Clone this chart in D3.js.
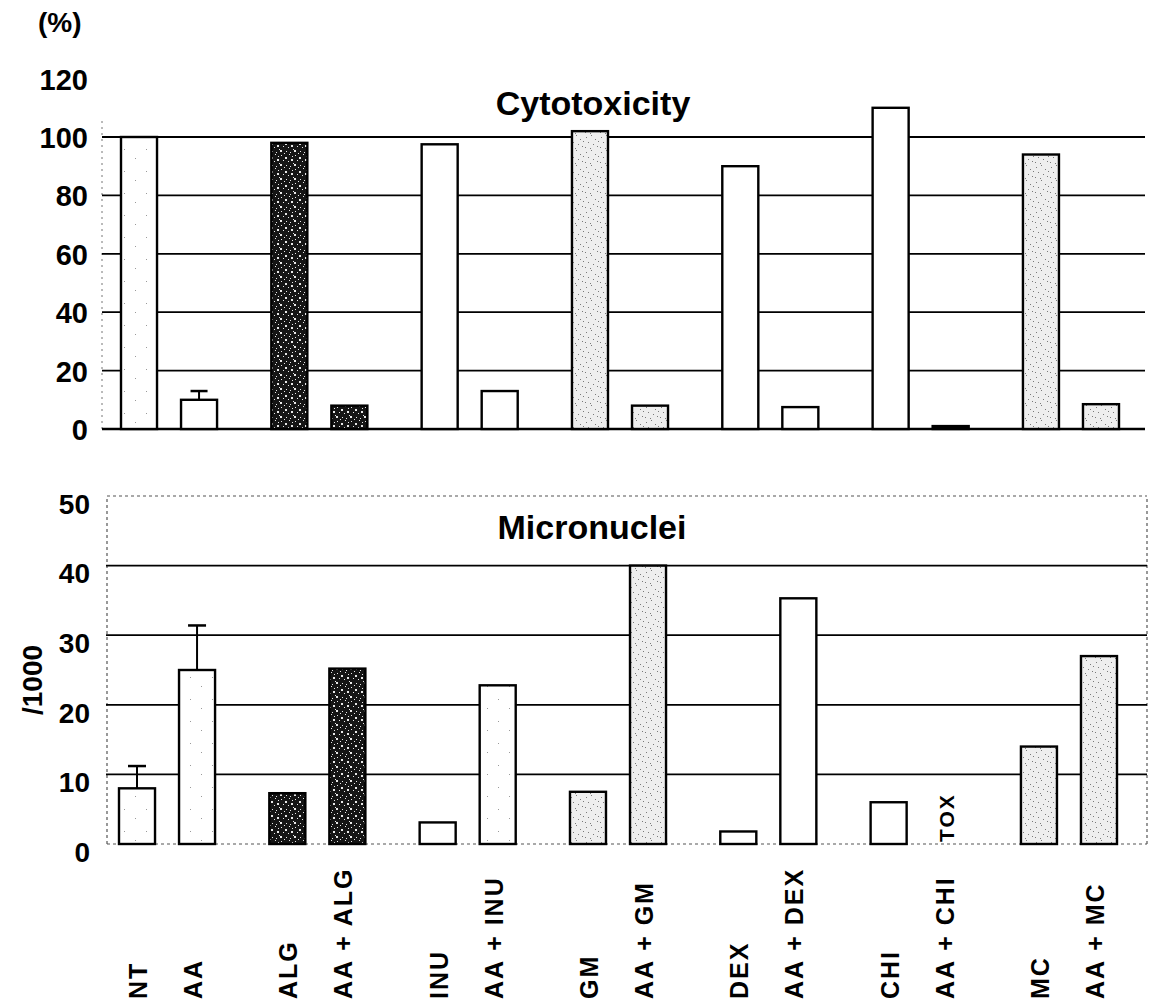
<!DOCTYPE html>
<html>
<head>
<meta charset="utf-8">
<script src="https://cdn.jsdelivr.net/npm/d3@7"></script>
<style>
  html, body { margin: 0; padding: 0; background: #fff; }
  svg { display: block; }
  text { font-family: "Liberation Sans", Arial, Helvetica, sans-serif; font-weight: bold; fill: #000; }
</style>
</head>
<body>
<svg id="chart" width="1154" height="1008"></svg>
<script>
// ---------------- data ----------------
const groups = ["NT", "ALG", "INU", "GM", "DEX", "CHI", "MC"];
const categories = ["NT", "AA", "ALG", "AA + ALG", "INU", "AA + INU", "GM", "AA + GM",
                    "DEX", "AA + DEX", "CHI", "AA + CHI", "MC", "AA + MC"];
const cytotoxicity    = [100, 10, 98, 8, 97.5, 13, 102, 8, 90, 7.5, 110, 1, 94, 8.5];
const cytotoxicityErr = [null, 3, null, null, null, null, null, null, null, null, null, null, null, null];
const micronuclei     = [8, 25, 7.3, 25.2, 3.1, 22.8, 7.5, 40, 1.8, 35.3, 6, null, 14, 27];
const micronucleiErr  = [3.2, 6.4, null, null, null, null, null, null, null, null, null, null, null, null];
const topFill    = ["faint", "white", "dark", "dark", "white", "white", "light", "light",
                    "white", "white", "white", "black", "light", "light"];
const bottomFill = ["faint", "faint", "dark", "dark", "white", "faint", "light", "light",
                    "white", "white", "white", null, "light", "light"];
const topTicks = [0, 20, 40, 60, 80, 100, 120];
const topGrid = [20, 40, 60, 80, 100];
const bottomTicks = [0, 10, 20, 30, 40, 50];
const bottomGrid = [10, 20, 30, 40];
const missingLabel = "TOX";

// ---------------- layout ----------------
const svg = d3.select("#chart");
const FONT = '"Liberation Sans", Arial, Helvetica, sans-serif';

// patterns (textures)
const defs = svg.append("defs");
function makePattern(id, bg, dot, pts, size) {
  const p = defs.append("pattern").attr("id", id)
    .attr("patternUnits", "userSpaceOnUse").attr("width", size).attr("height", size);
  p.append("rect").attr("width", size).attr("height", size).attr("fill", bg);
  pts.forEach(([x, y, r]) => p.append("rect").attr("x", x).attr("y", y)
    .attr("width", r).attr("height", r).attr("fill", dot));
}
makePattern("dark", "#151515", "#e8e8e8",
  [[1,1,1],[5,3,2],[9,0,1],[3,6,1],[8,7,1],[11,5,2],[0,10,2],[6,11,1],[10,12,1],[13,9,1],[4,13,1],[12,2,1]], 14);
makePattern("light", "#eeeeee", "#7a7a7a",
  [[1,2,1],[6,0,1],[10,4,1],[3,7,1],[8,9,1],[12,11,1],[0,12,1],[5,13,1],[13,6,1]], 15);
makePattern("faint", "#ffffff", "#9a9a9a",
  [[3,4,1],[14,17,1],[8,26,1]], 22);

const fillOf = f => f === "dark" ? "url(#dark)" : f === "light" ? "url(#light)"
                  : f === "faint" ? "url(#faint)" : f === "black" ? "#000" : "#fff";

// x scales (shared by both panels)
const xGroup = d3.scaleBand().domain(groups).range([121, 1119]).paddingInner(0.361).paddingOuter(0);
const xInner = d3.scaleBand().domain([0, 1]).range([0, xGroup.bandwidth()]).paddingInner(0.4).paddingOuter(0);
const barX = i => xGroup(groups[Math.floor(i / 2)]) + xInner(i % 2);
const barW = xInner.bandwidth();

// ---------------- top panel: Cytotoxicity ----------------
const topLeft = 102, topRight = 1145;
const yTop = d3.scaleLinear().domain([0, 120]).range([429, 78.6]);
const gTop = svg.append("g");

// left dotted axis
gTop.append("line").attr("x1", topLeft).attr("x2", topLeft)
  .attr("y1", yTop(0)).attr("y2", yTop(106))
  .attr("stroke", "#777").attr("stroke-width", 1).attr("stroke-dasharray", "2,4");

gTop.selectAll("line.grid").data(topGrid).enter().append("line").attr("class", "grid")
  .attr("x1", topLeft).attr("x2", topRight)
  .attr("y1", d => yTop(d)).attr("y2", d => yTop(d))
  .attr("stroke", "#000").attr("stroke-width", 1.8);

gTop.append("line").attr("x1", topLeft).attr("x2", topRight)
  .attr("y1", yTop(0)).attr("y2", yTop(0)).attr("stroke", "#000").attr("stroke-width", 2.5);

const yAxisTop = d3.axisLeft(yTop).tickValues(topTicks).tickSize(0).tickPadding(0);
const axT = gTop.append("g").attr("transform", "translate(88,0)").call(yAxisTop);
axT.select(".domain").remove();
axT.selectAll("text").style("font-family", FONT).style("font-weight", "bold")
  .style("font-size", "29px").attr("x", 0).attr("dy", "0.36em");

gTop.selectAll("rect.bar").data(cytotoxicity).enter().append("rect").attr("class", "bar")
  .attr("x", (d, i) => barX(i)).attr("width", barW)
  .attr("y", d => yTop(d)).attr("height", d => yTop(0) - yTop(d))
  .attr("fill", (d, i) => fillOf(topFill[i]))
  .attr("stroke", "#000").attr("stroke-width", 2.4);

cytotoxicity.forEach((v, i) => {
  const e = cytotoxicityErr[i];
  if (e == null) return;
  const cx = barX(i) + barW / 2;
  gTop.append("line").attr("x1", cx).attr("x2", cx).attr("y1", yTop(v)).attr("y2", yTop(v + e))
    .attr("stroke", "#000").attr("stroke-width", 2);
  gTop.append("line").attr("x1", cx - 8.5).attr("x2", cx + 8.5).attr("y1", yTop(v + e)).attr("y2", yTop(v + e))
    .attr("stroke", "#000").attr("stroke-width", 2.5);
});

gTop.append("text").attr("x", 593).attr("y", 115).attr("text-anchor", "middle")
  .style("font-size", "34px").text("Cytotoxicity");

svg.append("text").attr("x", 38).attr("y", 32).style("font-size", "28px").text("(%)");

// ---------------- bottom panel: Micronuclei ----------------
const botLeft = 107, botRight = 1147;
const yBot = d3.scaleLinear().domain([0, 50]).range([844, 496]);
const gBot = svg.append("g");

// dotted frame
[[botLeft, yBot(50), botRight, yBot(50)], [botLeft, yBot(0), botRight, yBot(0)],
 [botLeft, yBot(0), botLeft, yBot(50)], [botRight, yBot(0), botRight, yBot(50)]].forEach(c => {
  gBot.append("line").attr("x1", c[0]).attr("y1", c[1]).attr("x2", c[2]).attr("y2", c[3])
    .attr("stroke", "#555").attr("stroke-width", 1.2).attr("stroke-dasharray", "3,3");
});

gBot.selectAll("line.grid").data(bottomGrid).enter().append("line").attr("class", "grid")
  .attr("x1", botLeft - 1).attr("x2", botRight)
  .attr("y1", d => yBot(d)).attr("y2", d => yBot(d))
  .attr("stroke", "#000").attr("stroke-width", 1.8);

const yAxisBot = d3.axisLeft(yBot).tickValues(bottomTicks).tickSize(0).tickPadding(0);
const axB = gBot.append("g").attr("transform", "translate(90,0)").call(yAxisBot);
axB.select(".domain").remove();
axB.selectAll("text").style("font-family", FONT).style("font-weight", "bold")
  .style("font-size", "28px").attr("x", 0).attr("dy", "0.62em");

const botData = micronuclei.map((v, i) => ({ v, i })).filter(d => d.v != null);
gBot.selectAll("rect.bar").data(botData).enter().append("rect").attr("class", "bar")
  .attr("x", d => barX(d.i) - 2).attr("width", barW)
  .attr("y", d => yBot(d.v)).attr("height", d => yBot(0) - yBot(d.v))
  .attr("fill", d => fillOf(bottomFill[d.i]))
  .attr("stroke", "#000").attr("stroke-width", 2.4);

micronuclei.forEach((v, i) => {
  const e = micronucleiErr[i];
  if (v == null || e == null) return;
  const cx = barX(i) - 2 + barW / 2;
  gBot.append("line").attr("x1", cx).attr("x2", cx).attr("y1", yBot(v)).attr("y2", yBot(v + e))
    .attr("stroke", "#000").attr("stroke-width", 2);
  gBot.append("line").attr("x1", cx - 9).attr("x2", cx + 9).attr("y1", yBot(v + e)).attr("y2", yBot(v + e))
    .attr("stroke", "#000").attr("stroke-width", 2.5);
});

// TOX marker where no value
micronuclei.forEach((v, i) => {
  if (v == null) {
    const cx = barX(i) + barW / 2 - 4;
    gBot.append("text").attr("transform", `translate(${cx + 7.5},${yBot(0) - 2}) rotate(-90)`)
      .style("font-size", "21px").style("letter-spacing", "2px").text(missingLabel);
  }
});

gBot.append("text").attr("x", 592).attr("y", 539).attr("text-anchor", "middle")
  .style("font-size", "34px").text("Micronuclei");

svg.append("text").attr("transform", "translate(42,680) rotate(-90)").attr("text-anchor", "middle")
  .style("font-size", "28px").text("/1000");

// ---------------- category labels ----------------
svg.selectAll("text.cat").data(categories).enter().append("text").attr("class", "cat")
  .attr("transform", (d, i) => {
    const cx = barX(i) + barW / 2 + (i % 2 ? -6 : -1);
    return `translate(${cx + 9},999) rotate(-90)`;
  })
  .style("font-size", "25px").style("letter-spacing", "2px")
  .text(d => d);
</script>
</body>
</html>
